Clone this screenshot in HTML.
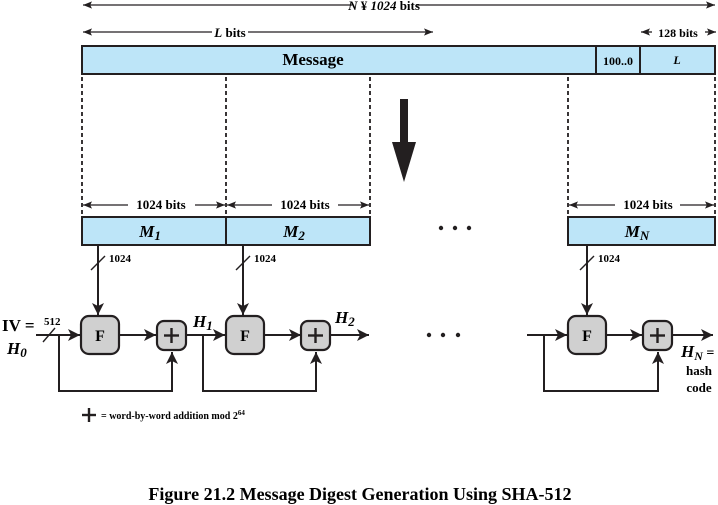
<!DOCTYPE html>
<html><head><meta charset="utf-8"><style>
body{margin:0;background:#fff}
svg{display:block;font-family:"Liberation Serif",serif;font-weight:bold}
</style></head><body>
<svg width="718" height="505" viewBox="0 0 718 505" xmlns="http://www.w3.org/2000/svg">
<defs>
<marker id="a" viewBox="0 0 10 10" refX="10" refY="5" markerWidth="9" markerHeight="9" markerUnits="userSpaceOnUse" orient="auto-start-reverse"><path d="M0,1 L10,5 L0,9 L2,5z" fill="#231f20"/></marker>
<marker id="b" viewBox="0 0 10 10" refX="10" refY="5" markerWidth="12" markerHeight="12" markerUnits="userSpaceOnUse" orient="auto-start-reverse"><path d="M0,0 L10,5 L0,10 L2.5,5z" fill="#231f20"/></marker>
</defs>
<g stroke="#231f20" fill="none" stroke-width="1.3">
<line x1="83" y1="5" x2="352" y2="5" marker-start="url(#a)"/>
<line x1="416" y1="5" x2="715" y2="5" marker-end="url(#a)"/>
<line x1="83" y1="32" x2="212" y2="32" marker-start="url(#a)"/>
<line x1="248" y1="32" x2="433" y2="32" marker-end="url(#a)"/>
<line x1="641" y1="32" x2="652" y2="32" marker-start="url(#a)"/>
<line x1="705" y1="32" x2="716" y2="32" marker-end="url(#a)"/>
</g>
<text x="384" y="10" font-size="13" text-anchor="middle"><tspan font-style="italic">N</tspan> ¥ <tspan font-style="italic">1024</tspan> bits</text>
<text x="230" y="37" font-size="13" text-anchor="middle"><tspan font-style="italic">L</tspan> bits</text>
<text x="678" y="37" font-size="12" text-anchor="middle">128 bits</text>
<rect x="82" y="46" width="633" height="28" fill="#bde5f8" stroke="#231f20" stroke-width="2"/>
<line x1="596" y1="46" x2="596" y2="74" stroke="#231f20" stroke-width="2"/>
<line x1="640" y1="46" x2="640" y2="74" stroke="#231f20" stroke-width="2"/>
<text x="313" y="65" font-size="17" text-anchor="middle">Message</text>
<text x="618" y="65" font-size="12" text-anchor="middle">100..0</text>
<text x="677" y="64" font-size="12" text-anchor="middle" font-style="italic">L</text>
<g stroke="#231f20" stroke-width="1.8" stroke-dasharray="4,3">
<line x1="82" y1="77" x2="82" y2="216"/><line x1="226" y1="77" x2="226" y2="216"/>
<line x1="370" y1="77" x2="370" y2="216"/><line x1="568" y1="77" x2="568" y2="216"/>
<line x1="715" y1="77" x2="715" y2="216"/>
</g>
<rect x="400" y="99" width="8" height="45" fill="#231f20"/>
<path d="M392,142 L416,142 L404,182z" fill="#231f20"/>
<g stroke="#231f20" stroke-width="1.3" fill="none">
<line x1="83" y1="205" x2="128" y2="205" marker-start="url(#a)"/><line x1="195" y1="205" x2="225" y2="205" marker-end="url(#a)"/>
<line x1="227" y1="205" x2="272" y2="205" marker-start="url(#a)"/><line x1="338" y1="205" x2="369" y2="205" marker-end="url(#a)"/>
<line x1="569" y1="205" x2="615" y2="205" marker-start="url(#a)"/><line x1="680" y1="205" x2="714" y2="205" marker-end="url(#a)"/>
</g>
<g font-size="13" text-anchor="middle"><text x="161" y="209">1024  bits</text><text x="305" y="209">1024  bits</text><text x="648" y="209">1024  bits</text></g>
<g fill="#bde5f8" stroke="#231f20" stroke-width="2">
<rect x="82" y="217" width="144" height="28"/><rect x="226" y="217" width="144" height="28"/><rect x="568" y="217" width="147" height="28"/>
</g>
<g font-size="17" font-style="italic" text-anchor="middle">
<text x="150" y="237">M<tspan font-size="13" dy="3">1</tspan></text>
<text x="294" y="237">M<tspan font-size="13" dy="3">2</tspan></text>
<text x="637" y="237">M<tspan font-size="13" dy="3">N</tspan></text>
</g>
<g fill="#231f20"><circle cx="441" cy="228" r="2.2"/><circle cx="455" cy="228" r="2.2"/><circle cx="469" cy="228" r="2.2"/>
<circle cx="429" cy="335" r="2.2"/><circle cx="443" cy="335" r="2.2"/><circle cx="458" cy="335" r="2.2"/></g>
<g stroke="#231f20" stroke-width="2" fill="none">
<line x1="98" y1="245" x2="98" y2="315" marker-end="url(#b)"/>
<line x1="243" y1="245" x2="243" y2="315" marker-end="url(#b)"/>
<line x1="587" y1="245" x2="587" y2="315" marker-end="url(#b)"/>
<line x1="36" y1="335" x2="80" y2="335" marker-end="url(#b)"/>
<line x1="119" y1="335" x2="156" y2="335" marker-end="url(#b)"/>
<line x1="186" y1="335" x2="225" y2="335" marker-end="url(#b)"/>
<line x1="263" y1="335" x2="301" y2="335" marker-end="url(#b)"/>
<line x1="330" y1="335" x2="369" y2="335" marker-end="url(#b)"/>
<line x1="527" y1="335" x2="567" y2="335" marker-end="url(#b)"/>
<line x1="606" y1="335" x2="642" y2="335" marker-end="url(#b)"/>
<line x1="672" y1="335" x2="713" y2="335" marker-end="url(#b)"/>
<polyline points="59,335 59,391 172,391 172,352" marker-end="url(#b)"/>
<polyline points="203,335 203,391 316,391 316,352" marker-end="url(#b)"/>
<polyline points="544,335 544,391 658,391 658,352" marker-end="url(#b)"/>
</g>
<g stroke="#231f20" stroke-width="1.4">
<line x1="91" y1="270" x2="105" y2="256"/><line x1="236" y1="270" x2="250" y2="256"/><line x1="580" y1="270" x2="594" y2="256"/>
<line x1="43" y1="342" x2="55" y2="328"/>
</g>
<g font-size="11"><text x="109" y="262">1024</text><text x="254" y="262">1024</text><text x="598" y="262">1024</text><text x="44" y="325">512</text></g>
<g fill="#d0d0d0" stroke="#231f20" stroke-width="2.2">
<rect x="81" y="316" width="38" height="38" rx="8"/><rect x="226" y="316" width="38" height="38" rx="8"/><rect x="568" y="316" width="38" height="38" rx="8"/>
<rect x="157" y="321" width="29" height="29" rx="7"/><rect x="301" y="321" width="29" height="29" rx="7"/><rect x="643" y="321" width="29" height="29" rx="7"/>
</g>
<g font-size="16" text-anchor="middle"><text x="100" y="341">F</text><text x="245" y="341">F</text><text x="587" y="341">F</text></g>
<g stroke="#231f20" stroke-width="2.4">
<line x1="164" y1="335.5" x2="179" y2="335.5"/><line x1="171.5" y1="328" x2="171.5" y2="343"/>
<line x1="308" y1="335.5" x2="323" y2="335.5"/><line x1="315.5" y1="328" x2="315.5" y2="343"/>
<line x1="650" y1="335.5" x2="665" y2="335.5"/><line x1="657.5" y1="328" x2="657.5" y2="343"/>
<line x1="82" y1="415" x2="96" y2="415"/><line x1="89" y1="408" x2="89" y2="422"/>
</g>
<text x="2" y="331" font-size="17">IV =</text>
<text x="7" y="354" font-size="17" font-style="italic">H<tspan font-size="13" dy="3">0</tspan></text>
<text x="193" y="327" font-size="17" font-style="italic">H<tspan font-size="13" dy="3">1</tspan></text>
<text x="335" y="323" font-size="17" font-style="italic">H<tspan font-size="13" dy="3">2</tspan></text>
<text x="681" y="357" font-size="17" font-style="italic">H<tspan font-size="12" dy="3">N</tspan><tspan font-style="normal" font-size="14" dy="-3"> =</tspan></text>
<text x="699" y="375" font-size="13" text-anchor="middle">hash</text>
<text x="699" y="392" font-size="13" text-anchor="middle">code</text>
<text x="101" y="419" font-size="10">= word-by-word addition mod 2<tspan font-size="7" dy="-4">64</tspan></text>
<text x="360" y="500" font-size="18" text-anchor="middle">Figure 21.2  Message Digest Generation Using SHA-512</text>
</svg>
</body></html>
